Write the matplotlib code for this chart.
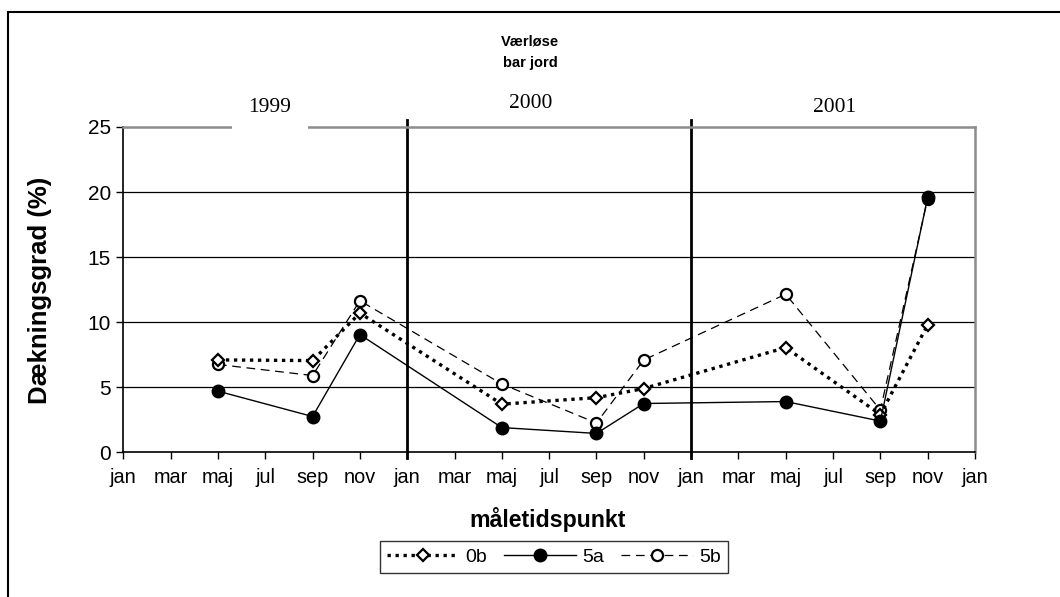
import matplotlib
matplotlib.use("Agg")
import matplotlib.pyplot as plt
from matplotlib.patches import Rectangle

# ---- data ----
months = [4, 8, 10, 16, 20, 22, 28, 32, 34]   # months since jan 1999 (maj, sep, nov each year)
s0b = [7.1, 7.05, 10.7, 3.7, 4.2, 4.9, 8.05, 2.9, 9.8]
s5a = [4.7, 2.75, 9.05, 1.9, 1.45, 3.75, 3.9, 2.4, 19.6]
s5b = [6.75, 5.9, 11.65, 5.25, 2.25, 7.1, 12.15, 3.25, 19.5]
tick_pos = list(range(0, 37, 2))
month_names = ["jan", "mar", "maj", "jul", "sep", "nov"]
tick_labels = [month_names[i % 6] for i in range(len(tick_pos))]
years = ["1999", "2000", "2001"]
year_breaks = [12, 24]
y_ticks = [0, 5, 10, 15, 20, 25]

plt.rcParams['font.family'] = ['Liberation Sans', 'DejaVu Sans']

W, H = 1060, 597
fig = plt.figure(figsize=(W / 100, H / 100), dpi=100)
fig.patch.set_facecolor('white')

def fx(px):
    return px / W

def fy(py):
    return 1 - py / H

left, right, top, bottom = 123.3, 975, 127, 452.3
ax = fig.add_axes([fx(left), fy(bottom), fx(right) - fx(left), fy(top) - fy(bottom)])

ax.set_xlim(0, 36)
ax.set_ylim(0, 25)
ax.set_xticks(tick_pos)
ax.set_xticklabels(tick_labels, fontsize=14.3)
ax.set_yticks(y_ticks)
ax.set_yticklabels([str(v) for v in y_ticks], fontsize=15)
ax.tick_params(axis='both', direction='out', length=5, width=1, color='black', pad=6)
ax.tick_params(axis='y', pad=4)

for v in y_ticks[1:-1]:
    ax.axhline(v, color='black', lw=0.9, zorder=1)

for sp in ['top', 'right']:
    ax.spines[sp].set_color('#8c8c8c')
    ax.spines[sp].set_linewidth(1.8)
for sp in ['left', 'bottom']:
    ax.spines[sp].set_color('black')
    ax.spines[sp].set_linewidth(1.2)

for xb in year_breaks:
    ax.axvline(xb, ymin=-0.018, ymax=1.02, color='black', lw=2, clip_on=False, zorder=2)

l0, = ax.plot(months, s0b, linestyle=(0, (1.0, 1.4)), lw=2.4, color='black',
              marker='D', markersize=6.5, markerfacecolor='white', markeredgecolor='black',
              markeredgewidth=1.6, zorder=4, label='0b')
l1, = ax.plot(months, s5a, linestyle='-', lw=1.0, color='black',
              marker='o', markersize=9, markerfacecolor='black', markeredgecolor='black',
              zorder=5, label='5a')
l2, = ax.plot(months, s5b, linestyle=(0, (7, 4.5)), lw=0.9, color='black',
              marker='o', markersize=8, markerfacecolor='white', markeredgecolor='black',
              markeredgewidth=1.6, zorder=3, label='5b')

# white patch under the 1999 label (covers the top border as in the reference)
fig.add_artist(Rectangle((fx(232), fy(130)), fx(308) - fx(232), fy(124) - fy(130),
                         transform=fig.transFigure, facecolor='white', edgecolor='none', zorder=10))

fig.text(fx(530), fy(42), "Værløse", ha='center', va='center', fontsize=10.5, fontweight='bold')
fig.text(fx(530), fy(63), "bar jord", ha='center', va='center', fontsize=10.5, fontweight='bold')
year_x = [270, 531, 835]
year_y = [108, 104, 108]
for t, x, y in zip(years, year_x, year_y):
    fig.text(fx(x), fy(y), t, ha='center', va='center', fontsize=15.5,
             family=['Liberation Serif', 'DejaVu Serif'])

fig.text(fx(40), fy(290), "Dækningsgrad (%)", rotation=90, ha='center', va='center',
         fontsize=18.5, fontweight='bold')
fig.text(fx(548), fy(520), "måletidspunkt", ha='center', va='center', fontsize=16.7,
         fontweight='bold')

leg = fig.legend(handles=[l0, l1, l2], loc='center', bbox_to_anchor=(fx(554), fy(557)),
                 ncol=3, frameon=True, fancybox=False, fontsize=14, handlelength=3.7,
                 handletextpad=0.3, columnspacing=0.9, borderpad=0.35, borderaxespad=0)
leg.get_frame().set_edgecolor('black')
leg.get_frame().set_linewidth(1.0)

# outer chart border
fig.add_artist(Rectangle((fx(8), -0.05), 1.2, fy(12) + 0.05, transform=fig.transFigure,
                         facecolor='none', edgecolor='black', lw=1.5))

fig.savefig("out.png", dpi=100)
